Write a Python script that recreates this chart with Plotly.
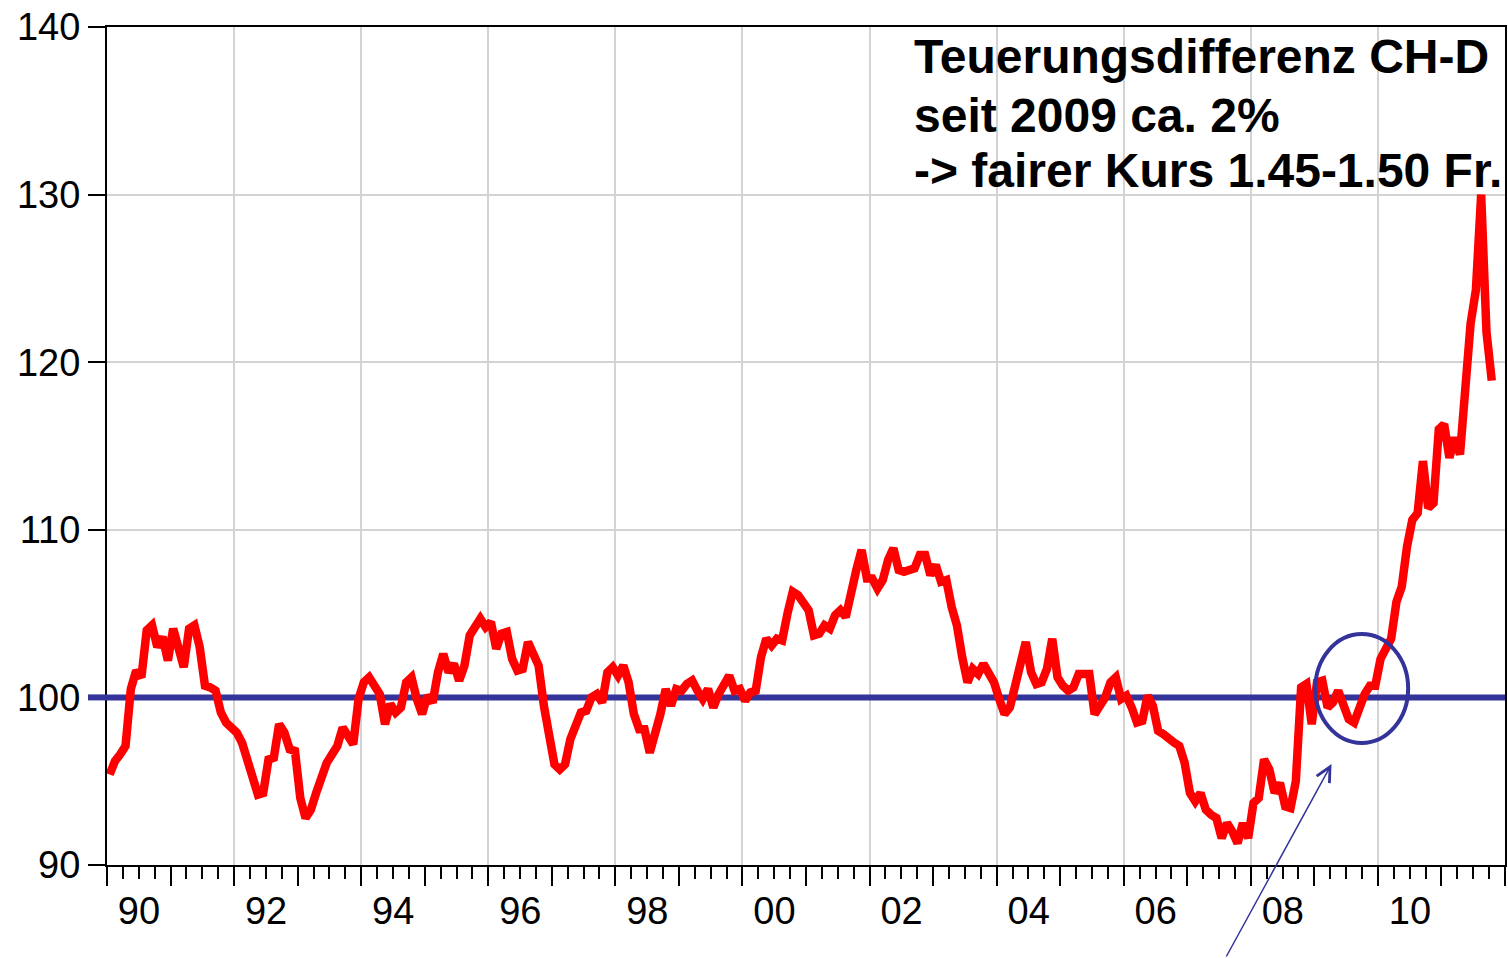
import plotly.graph_objects as go

# ---------------- data (monthly index, Jan 1990 - Oct 2011) ----------------
start_year = 1990
v1990 = [95.4, 96.2, 96.6, 97.1, 100.5, 101.6, 101.2, 104.0, 104.3, 103.0, 103.6, 102.2]
v1991 = [104.1, 102.9, 101.8, 104.1, 104.3, 103.0, 100.7, 100.6, 100.4, 99.1, 98.5, 98.2]
v1992 = [97.9, 97.3, 96.3, 95.3, 94.2, 94.3, 96.3, 96.4, 98.4, 97.9, 96.9, 96.8]
v1993 = [94.0, 92.8, 93.3, 94.3, 95.4, 96.1, 96.6, 97.1, 98.2, 97.7, 97.2, 99.9]
v1994 = [100.9, 101.2, 100.7, 100.2, 98.4, 99.6, 99.1, 99.4, 100.9, 101.2, 99.9, 99.0]
v1995 = [100.1, 99.7, 101.5, 102.6, 101.5, 102.0, 101.0, 101.9, 103.7, 104.3, 104.7, 104.2]
v1996 = [104.5, 102.9, 103.8, 103.9, 102.3, 101.6, 101.7, 103.3, 102.6, 101.9, 99.5, 97.8]
v1997 = [96.0, 95.7, 96.0, 97.5, 98.4, 99.1, 99.2, 100.0, 100.2, 99.7, 101.5, 101.8]
v1998 = [101.3, 101.9, 100.9, 99.0, 98.1, 98.1, 96.7, 97.8, 99.0, 100.5, 99.5, 100.5]
v1999 = [100.4, 100.8, 101.0, 100.4, 99.9, 100.5, 99.4, 100.2, 100.7, 101.3, 100.4, 100.5]
v2000 = [99.8, 100.3, 100.4, 102.4, 103.5, 103.1, 103.5, 103.4, 105.0, 106.3, 106.1, 105.7]
v2001 = [105.2, 103.7, 103.8, 104.3, 104.1, 104.9, 105.2, 104.8, 106.4, 107.6, 108.8, 107.1]
v2002 = [107.1, 106.5, 107.0, 108.2, 108.9, 107.6, 107.5, 107.6, 107.7, 108.5, 108.5, 107.3]
v2003 = [107.9, 106.9, 107.0, 105.4, 104.3, 102.4, 100.9, 101.7, 101.4, 102.0, 101.4, 100.9]
v2004 = [99.9, 99.0, 99.4, 100.7, 101.7, 103.3, 101.5, 100.8, 100.9, 101.7, 103.5, 101.2]
v2005 = [100.7, 100.4, 100.6, 101.4, 101.4, 101.4, 99.0, 99.4, 100.0, 100.9, 101.2, 99.9]
v2006 = [100.1, 99.4, 98.5, 98.6, 100.1, 99.5, 98.0, 97.8, 97.5, 97.3, 97.1, 96.1]
v2007 = [94.3, 93.8, 94.3, 93.3, 93.0, 92.8, 91.6, 92.5, 92.0, 91.3, 92.5, 91.6]
v2008 = [93.7, 94.0, 96.3, 95.7, 94.3, 94.9, 93.5, 93.4, 95.0, 100.6, 100.8, 98.4]
v2009 = [100.9, 101.0, 99.4, 99.7, 100.4, 99.6, 98.7, 98.5, 99.4, 100.2, 100.7, 100.7]
v2010 = [102.3, 102.9, 103.5, 105.7, 106.6, 109.0, 110.6, 111.0, 114.1, 111.3, 111.6, 116.0]
v2011 = [116.3, 114.3, 115.5, 114.5, 118.8, 122.3, 124.3, 130.0, 121.8, 118.9]

reference_level = 100

year_ticks = list(range(1990, 2013))
year_labels = ["90", "", "92", "", "94", "", "96", "", "98", "", "00", "",
               "02", "", "04", "", "06", "", "08", "", "10", "", ""]
grid_years = [1992, 1994, 1996, 1998, 2000, 2002, 2004, 2006, 2008, 2010]
y_ticks = [90, 100, 110, 120, 130, 140]
y_labels = ["90", "100", "110", "120", "130", "140"]

note_lines = ["Teuerungsdifferenz CH-D", "seit 2009 ca. 2%", "-> fairer Kurs 1.45-1.50 Fr."]

# ---------------- build ----------------
values = (v1990 + v1991 + v1992 + v1993 + v1994 + v1995 + v1996 + v1997 + v1998 + v1999 +
          v2000 + v2001 + v2002 + v2003 + v2004 + v2005 + v2006 + v2007 + v2008 + v2009 +
          v2010 + v2011)
months = [start_year + (i + 0.5) / 12 for i in range(len(values))]
x_span = [start_year, year_ticks[-1]]

RED = "#ff0000"
BLUE = "#333399"
GRID = "#d3d3d3"
FONT = "Arial, Liberation Sans, sans-serif"

fig = go.Figure()
# empty trace to activate the overlaid grid axis
fig.add_trace(go.Scatter(x=[], y=[], xaxis="x2", yaxis="y", showlegend=False, hoverinfo="skip"))
# reference line at 100 (under the red series)
fig.add_trace(go.Scatter(x=x_span, y=[reference_level, reference_level], mode="lines",
                         line=dict(color=BLUE, width=6), showlegend=False, hoverinfo="skip"))
fig.add_trace(go.Scatter(x=months, y=values, mode="lines",
                         line=dict(color=RED, width=8.5),
                         showlegend=False, hoverinfo="x+y"))

# stub of the reference line over the tick area
fig.add_shape(type="line", xref="paper", yref="y", x0=-0.0136, x1=0,
              y0=reference_level, y1=reference_level,
              line=dict(color=BLUE, width=6), layer="above")

# circle highlight
fig.add_shape(type="circle", xref="x", yref="y",
              x0=2009.015, x1=2010.476, y0=97.28, y1=103.78,
              line=dict(color=BLUE, width=4), layer="above")

# arrow
fig.add_annotation(x=2009.27, y=96.02, xref="x", yref="y", text="",
                   showarrow=True, ax=-106, ay=196, axref="pixel", ayref="pixel",
                   arrowhead=5, arrowsize=1.9, arrowwidth=1.5, arrowcolor=BLUE,
                   standoff=0, startstandoff=0)

note_y = [0.9646, 0.8949, 0.8292]
for txt, yy in zip(note_lines, note_y):
    fig.add_annotation(x=0.5757, y=yy, xref="paper", yref="paper", text=txt,
                       showarrow=False, xanchor="left", yanchor="middle",
                       font=dict(family=FONT, size=48, color="black", weight="bold"))

fig.update_layout(
    width=1508, height=958,
    margin=dict(l=107, r=1, t=27, b=93),
    paper_bgcolor="white", plot_bgcolor="white",
    showlegend=False,
    font=dict(family=FONT, color="black"),
    xaxis=dict(
        range=x_span, tickmode="array", tickvals=year_ticks, ticktext=year_labels,
        ticks="outside", ticklen=19, tickwidth=2, tickcolor="black",
        ticklabelshift=32, ticklabelstandoff=-8,
        tickfont=dict(size=38, family=FONT, color="black"),
        showline=True, linecolor="black", linewidth=2, mirror=True,
        showgrid=False, zeroline=False,
        minor=dict(tick0=1990, dtick=0.25, ticks="outside", ticklen=12,
                   tickwidth=2, tickcolor="black", showgrid=False),
    ),
    xaxis2=dict(
        overlaying="x", anchor="y", range=x_span, matches="x",
        tickmode="array", tickvals=grid_years, ticks="", showticklabels=False,
        showgrid=True, gridcolor=GRID, gridwidth=2, showline=False, zeroline=False,
    ),
    yaxis=dict(
        range=[90, 140], tickmode="array", tickvals=y_ticks, ticktext=y_labels,
        ticks="outside", ticklen=17, tickwidth=2, tickcolor="black",
        tickfont=dict(size=38, family=FONT, color="black"),
        showline=True, linecolor="black", linewidth=2, mirror=True,
        showgrid=True, gridcolor=GRID, gridwidth=2, zeroline=False,
    ),
)

fig.write_html("out.html", config={"displayModeBar": False},
               post_script="document.body.style.margin='0';document.body.style.padding='0';")
